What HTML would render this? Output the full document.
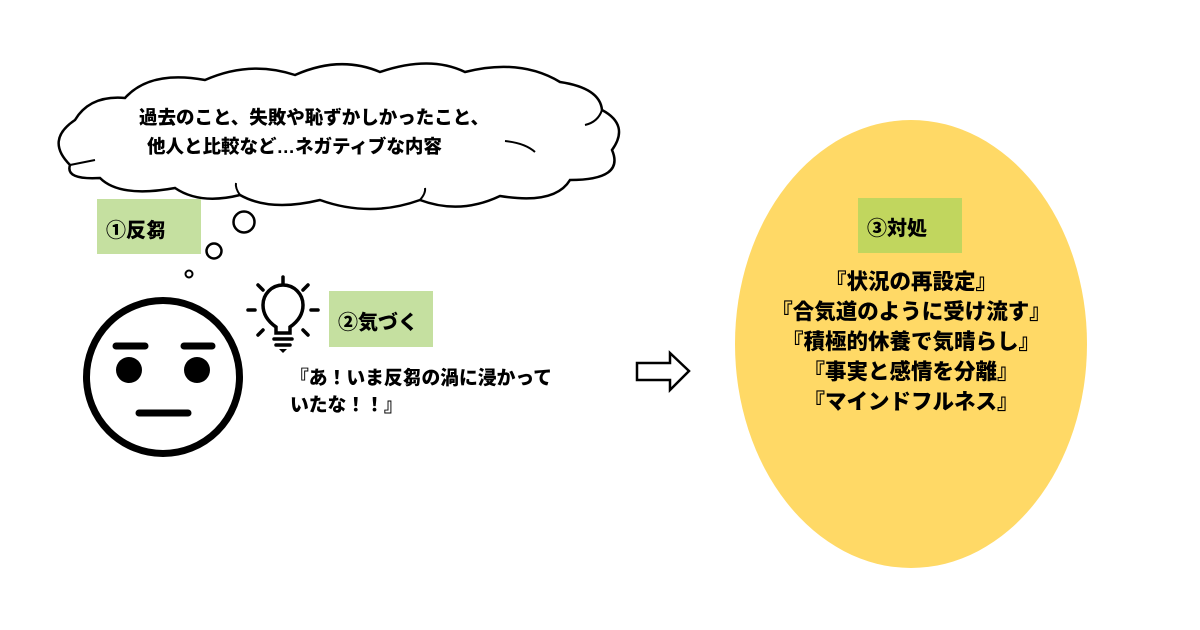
<!DOCTYPE html>
<html><head><meta charset="utf-8"><style>
html,body{margin:0;padding:0;background:#fff;}
body{width:1200px;height:630px;position:relative;overflow:hidden;font-family:"Liberation Sans","Noto Sans CJK JP",sans-serif;font-weight:900;color:#000;}
.t{position:absolute;white-space:nowrap;}
.box{position:absolute;}
</style></head><body>
<svg width="1200" height="630" style="position:absolute;left:0;top:0">
<path d="M70,165 Q45,140 75,120 Q90,95 125,98 Q150,70 205,80 Q250,60 295,75 Q340,55 380,72 Q430,55 465,72 Q520,58 560,82 Q600,88 602,110 Q630,125 612,150 Q625,180 570,180 Q555,205 500,196 Q460,215 420,200 Q370,218 320,200 Q270,212 240,195 Q200,205 175,188 Q120,198 100,178 Q65,180 70,165 Z" fill="#fff" stroke="#000" stroke-width="2.5"/>
<path d="M70,165 Q85,162 95,160" fill="none" stroke="#000" stroke-width="2"/>
<path d="M505,141 Q525,143 535,152" fill="none" stroke="#000" stroke-width="2"/>
<path d="M602,110 Q598,122 585,125" fill="none" stroke="#000" stroke-width="2"/>
<path d="M240,195 Q235,188 236,183" fill="none" stroke="#000" stroke-width="2"/>
<path d="M420,200 Q426,193 425,188" fill="none" stroke="#000" stroke-width="2"/>
<circle cx="244" cy="222" r="10.5" fill="#fff" stroke="#000" stroke-width="2.5"/>
<circle cx="214" cy="251" r="7.5" fill="#fff" stroke="#000" stroke-width="2.5"/>
<circle cx="189" cy="274" r="3.5" fill="#fff" stroke="#000" stroke-width="2"/>
<circle cx="163" cy="377" r="76.5" fill="#fff" stroke="#000" stroke-width="7"/>
<line x1="116" y1="346" x2="145" y2="346" stroke="#000" stroke-width="7" stroke-linecap="round"/>
<line x1="184" y1="346" x2="212" y2="346" stroke="#000" stroke-width="7" stroke-linecap="round"/>
<circle cx="129" cy="370" r="13" fill="#000"/>
<circle cx="197" cy="370" r="13" fill="#000"/>
<line x1="139" y1="413" x2="188" y2="413" stroke="#000" stroke-width="7" stroke-linecap="round"/>
<g stroke="#000" stroke-width="3.5" fill="none" stroke-linecap="round">
<path d="M276,333 L276,327 Q263,318 263,305 A20,20 0 0 1 303,305 Q303,318 290,327 L290,333 Z"/>
<line x1="274" y1="339" x2="292" y2="339"/>
<line x1="276" y1="345" x2="290" y2="345"/>
<line x1="283" y1="277" x2="283" y2="284"/>
<line x1="248" y1="310" x2="255" y2="310"/>
<line x1="311" y1="310" x2="318" y2="310"/>
<line x1="258" y1="285" x2="263" y2="290"/>
<line x1="308" y1="285" x2="303" y2="290"/>
<line x1="258" y1="335" x2="263" y2="330"/>
<line x1="308" y1="335" x2="303" y2="330"/>
</g>
<path d="M279,349 L287,349 L283,353 Z" fill="#000"/>
<path d="M637,363 L670,363 L670,353 L689,371 L670,390 L670,380 L637,380 Z" fill="#fff" stroke="#000" stroke-width="2.5"/>
<ellipse cx="911" cy="344" rx="176" ry="224" fill="#FFD966"/>
</svg>
<div class="box" style="left:97px;top:199px;width:104px;height:55px;background:#C5E0A0"></div>
<div class="box" style="left:329px;top:291px;width:104px;height:56px;background:#C5E0A0"></div>
<div class="box" style="left:858px;top:198px;width:104px;height:55px;background:#C1D65E"></div>
<div class="t" style="left:139px;top:103px;font-size:18.5px;line-height:29px;">過去のこと、失敗や恥ずかしかったこと、<br><span style="padding-left:8px">他人と比較など…ネガティブな内容</span></div>
<div class="t" style="left:106px;top:214px;font-size:20px;">①反芻</div>
<div class="t" style="left:338px;top:306px;font-size:20px;">②気づく</div>
<div class="t" style="left:867px;top:212px;font-size:20px;">③対処</div>
<div class="t" style="left:290px;top:364px;font-size:18.8px;line-height:27px;">『あ！いま反芻の渦に浸かって<br>いたな！！』</div>
<div class="t" style="left:735px;width:352px;top:267px;text-align:center;font-size:21.5px;line-height:30px;">『状況の再設定』<br>『合気道のように受け流す』<br>『積極的休養で気晴らし』<br>『事実と感情を分離』<br>『マインドフルネス』</div>
</body></html>
